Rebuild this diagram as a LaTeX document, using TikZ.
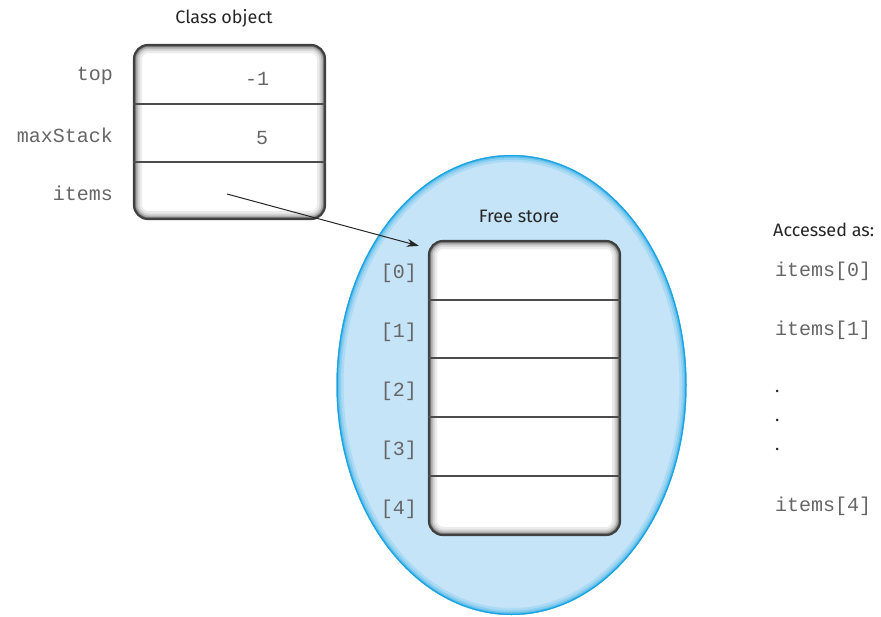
\documentclass[tikz,border=0pt]{standalone}
\usepackage{fontspec}
\setmainfont{Fira Sans}
\setmonofont{Liberation Mono}
\usetikzlibrary{calc}
\usetikzlibrary{positioning}
\usetikzlibrary{arrows.meta}
\usetikzlibrary{shapes.geometric}

\definecolor{storefill}{RGB}{197,228,248}
\definecolor{storeedge}{RGB}{28,164,226}

\begin{document}
\begin{tikzpicture}[x=1pt,y=-1pt,
		lbl/.style={font=\fontsize{18}{20}\selectfont, text=black!85, inner sep=0},
		mono/.style={font=\ttfamily\fontsize{20}{22}\selectfont, text=black!60, inner sep=0},
		membox/.style={draw=black!75, line width=2.2pt, rounded corners=14pt, fill=white,
			minimum width=191, inner sep=0,
			path picture={
				\foreach \w/\c in {16/8, 11/18, 7/32, 4/50}
					\draw[line width=\w pt, black!\c, rounded corners=14pt]
						(path picture bounding box.south west) rectangle (path picture bounding box.north east);
			}},
		store/.style={ellipse, fill=storefill, inner sep=0,
			minimum width=350, minimum height=460,
			path picture={
				\foreach \w/\c in {14/15, 9/35, 5/60, 2.5/100}
					\draw[line width=\w pt, storeedge!\c!storefill]
						(path picture bounding box.center) ellipse [x radius=175, y radius=230];
			}},
		divline/.style={draw=black!70, line width=1.2pt},
		ptr/.style={draw=black!85, line width=1pt, -{Stealth[length=12pt, width=8pt]}}]
	\useasboundingbox (0,0) rectangle (881,616);

	% class object
	\node[lbl] (clsname) at (224,18) {Class object};
	\node[membox, minimum height=174] (cls) at (229.5,132) {};
	\draw[divline] (cls.west |- 0,104) -- (cls.east |- 0,104);
	\draw[divline] (cls.west |- 0,162) -- (cls.east |- 0,162);
	\node[mono, anchor=east] (ltop) at (113,76) {top};
	\node[mono, anchor=east] (lmax) at (113,135) {maxStack};
	\node[mono, anchor=east] (litems) at (113,193) {items};
	\node[mono] (vtop) at (257,79) {-1};
	\node[mono] (vmax) at (262,138) {5};

	% free store
	\node[store] (store) at (511.5,385) {};
	\node[lbl] (storename) at (519,216) {Free store};
	\node[membox, minimum height=294] (arr) at (524.5,388) {};
	\foreach \y in {300,358,417,476}
		\draw[divline] (arr.west |- 0,\y) -- (arr.east |- 0,\y);
	\foreach \i/\y in {0/273,1/332,2/391,3/450,4/509}
		\node[mono, anchor=east] (idx\i) at (417,\y) {[\i]};

	% pointer
	\coordinate (ptrstart) at (227,194);
	\coordinate (ptrend) at ($(arr.north west)+(-9,6)$);
	\draw[ptr] (ptrstart) -- (ptrend);

	% accessed as
	\node[lbl, anchor=west] (acc) at (773,230) {Accessed as:};
	\node[mono, anchor=west] (acc0) at (775,271) {items[0]};
	\node[mono, anchor=west] (acc1) at (775,330) {items[1]};
	\foreach \y [count=\k] in {391,420,449}
		\node[lbl, anchor=west] (dot\k) at (775,\y) {.};
	\node[mono, anchor=west] (acc4) at (775,506) {items[4]};
\end{tikzpicture}
\end{document}
